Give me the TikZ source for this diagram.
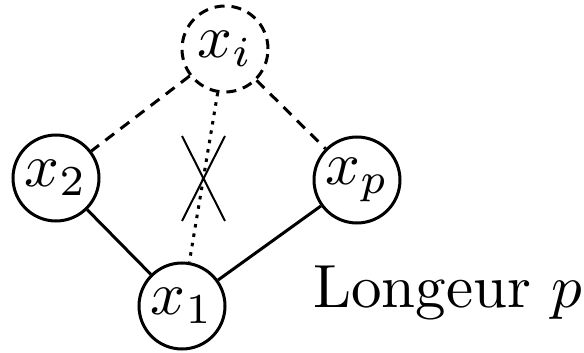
\documentclass[tikz,border=0pt]{standalone}
\usepackage{graphicx}
\newcommand{\bigtxt}[1]{\scalebox{6.1}{#1}}
\begin{document}
\begin{tikzpicture}[x=1pt,y=-1pt,
  vertex/.style={circle,draw,line width=3pt,minimum size=86pt,inner sep=0pt},
  vdash/.style={vertex,dash pattern=on 10pt off 7pt},
  dashedge/.style={line width=3pt,dash pattern=on 11pt off 8pt},
  dotedge/.style={line width=3pt,dash pattern=on 3.5pt off 6pt},
  solidedge/.style={line width=3pt},
  crossline/.style={line width=2pt}]
\useasboundingbox (0,0) rectangle (584,353);
\node[vdash] (xi) at (225,49) {\bigtxt{$x_i$}};
\node[vertex] (x2) at (56,178) {\bigtxt{$x_2$}};
\node[vertex] (xp) at (357,180) {\bigtxt{$x_p$}};
\node[vertex] (x1) at (182,306) {\bigtxt{$x_1$}};
\node[anchor=base west,inner sep=0pt] (lab) at (313,307) {\bigtxt{Longeur $p$}};
\draw[dashedge] (xi) -- (x2);
\draw[dashedge] (xi) -- (xp);
\draw[dotedge] (xi) -- (x1);
\draw[solidedge] (x2) -- (x1);
\draw[solidedge] (xp) -- (x1);
\coordinate (c1) at (182,136);
\coordinate (c2) at (225,221);
\coordinate (c3) at (225,136);
\coordinate (c4) at (182,221);
\draw[crossline] (c1) -- (c2);
\draw[crossline] (c3) -- (c4);
\end{tikzpicture}
\end{document}
